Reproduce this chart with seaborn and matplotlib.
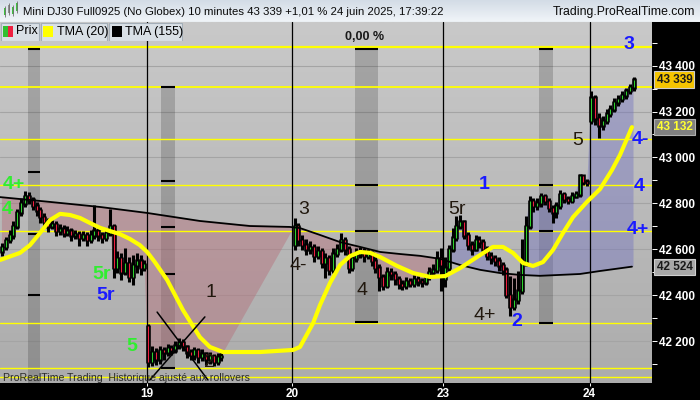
import numpy as np
import pandas as pd
import matplotlib
matplotlib.use("Agg")
import matplotlib.pyplot as plt
import seaborn as sns
from matplotlib.colors import LinearSegmentedColormap
from matplotlib.patches import Rectangle
from matplotlib.ticker import MultipleLocator, FuncFormatter, FixedLocator

# ---------------- data ----------------
day_labels = ["19", "20", "23", "24"]
day_pos = [37.6, 75.4, 114.6, 152.6]

# 10-minute bars, per session: first bar index, first open, closes, highs, lows
start_18 = 0
open_18 = 42590
close_18 = [42610, 42640, 42660, 42700, 42760, 42800, 42830, 42815, 42790, 42770,
            42740, 42720, 42700, 42710, 42680, 42690, 42670, 42680, 42660, 42665,
            42650, 42660, 42640, 42660, 42680, 42660, 42650, 42670, 42700, 42520,
            42560, 42500, 42540, 42480, 42530, 42550, 42520, 42535]
high_18 = [42625, 42650, 42680, 42720, 42770, 42820, 42850, 42845, 42825, 42800,
           42780, 42755, 42730, 42725, 42720, 42705, 42700, 42695, 42690, 42680,
           42675, 42675, 42670, 42680, 42790, 42690, 42670, 42690, 42770, 42705,
           42590, 42580, 42600, 42560, 42570, 42580, 42570, 42550]
low_18 = [42575, 42600, 42630, 42650, 42690, 42750, 42790, 42800, 42775, 42750,
          42720, 42700, 42680, 42690, 42660, 42665, 42655, 42660, 42640, 42650,
          42620, 42640, 42620, 42630, 42650, 42640, 42630, 42640, 42660, 42480,
          42500, 42470, 42490, 42460, 42450, 42500, 42490, 42510]

start_19 = 38
open_19 = 42265
close_19 = [42110, 42150, 42120, 42160, 42150, 42170, 42160, 42180, 42195, 42175,
            42150, 42140, 42160, 42130, 42145, 42120, 42135, 42110, 42130, 42135]
high_19 = [42270, 42175, 42165, 42175, 42170, 42185, 42180, 42195, 42210, 42205,
           42180, 42160, 42170, 42165, 42160, 42150, 42150, 42140, 42145, 42150]
low_19 = [42090, 42095, 42100, 42105, 42120, 42140, 42145, 42150, 42170, 42160,
          42130, 42120, 42120, 42110, 42115, 42100, 42105, 42095, 42100, 42115]

start_20 = 76
open_20 = 42620
close_20 = [42700, 42640, 42620, 42600, 42610, 42570, 42590, 42540, 42560, 42510,
            42580, 42600, 42640, 42600, 42520, 42560, 42580, 42590, 42570, 42580,
            42550, 42520, 42480, 42440, 42500, 42490, 42470, 42450, 42440, 42460,
            42450, 42470, 42460, 42455, 42480, 42500, 42510, 42560, 42530]
high_20 = [42730, 42710, 42660, 42640, 42630, 42620, 42610, 42600, 42580, 42570,
           42600, 42620, 42665, 42650, 42610, 42580, 42600, 42605, 42600, 42595,
           42590, 42560, 42530, 42490, 42520, 42515, 42500, 42480, 42460, 42475,
           42470, 42485, 42480, 42470, 42490, 42520, 42530, 42590, 42600]
low_20 = [42600, 42620, 42600, 42580, 42585, 42550, 42560, 42520, 42480, 42490,
          42500, 42570, 42590, 42580, 42500, 42510, 42550, 42565, 42550, 42560,
          42530, 42500, 42420, 42425, 42435, 42470, 42450, 42430, 42425, 42430,
          42440, 42440, 42445, 42440, 42450, 42470, 42490, 42500, 42420]

start_23 = 115
open_23 = 42470
close_23 = [42520, 42600, 42650, 42700, 42720, 42660, 42620, 42600, 42640, 42630,
            42600, 42570, 42560, 42550, 42530, 42510, 42400, 42350, 42380, 42420,
            42540, 42700, 42810, 42790, 42800, 42830, 42810, 42780, 42760, 42790,
            42840, 42820, 42810, 42830, 42840, 42920, 42895, 42890]
high_23 = [42560, 42615, 42690, 42740, 42745, 42725, 42670, 42630, 42660, 42655,
           42640, 42610, 42585, 42570, 42560, 42540, 42520, 42480, 42470, 42500,
           42640, 42740, 42830, 42820, 42820, 42840, 42835, 42820, 42790, 42800,
           42855, 42845, 42830, 42845, 42850, 42925, 42905, 42900]
low_23 = [42440, 42510, 42590, 42640, 42690, 42650, 42600, 42580, 42595, 42610,
          42585, 42555, 42540, 42530, 42510, 42490, 42390, 42315, 42340, 42365,
          42410, 42530, 42690, 42765, 42775, 42790, 42795, 42765, 42720, 42740,
          42780, 42805, 42800, 42805, 42825, 42830, 42885, 42880]

start_24 = 153
open_24 = 43160
close_24 = [43260, 43170, 43140, 43160, 43190, 43210, 43240, 43255, 43270, 43290,
            43305, 43339]
high_24 = [43285, 43270, 43190, 43175, 43205, 43225, 43255, 43270, 43285, 43300,
           43318, 43345]
low_24 = [43150, 43145, 43090, 43125, 43150, 43180, 43200, 43230, 43245, 43260,
          43280, 43295]

# indicators (bar index, value)
tma20_x = [-0.5, 4.7, 7.3, 9.9, 12.5, 15.1, 17.7, 20.3, 22.9, 25.5, 28.1, 30.6, 33.2,
           35.8, 37.7, 39.7, 42.9, 47.0, 51.4, 54.0, 57.4, 67.0, 75.6, 77.4, 80.8,
           82.6, 85.2, 87.8, 90.4, 93.0, 95.6, 98.2, 102.6, 106.8, 111.2, 115.1,
           119.0, 124.2, 127.5, 130.1, 132.7, 135.3, 137.9, 140.5, 143.1, 145.7,
           148.3, 151.9, 155.3, 158.4, 160.5, 163.6]
tma20_v = [42553, 42584, 42618, 42671, 42727, 42754, 42749, 42736, 42714, 42693, 42679,
           42666, 42645, 42618, 42588, 42544, 42466, 42335, 42217, 42174, 42152, 42152,
           42161, 42174, 42278, 42357, 42453, 42531, 42570, 42588, 42584, 42566, 42527,
           42496, 42479, 42483, 42518, 42575, 42610, 42610, 42584, 42540, 42527, 42544,
           42597, 42671, 42740, 42806, 42862, 42945, 43011, 43132]
tma155_x = [-0.5, 12.5, 25.5, 37.7, 51.4, 64.4, 74.8, 77.4, 82.6, 87.8, 93.0, 98.2,
            103.4, 108.6, 113.8, 119.0, 124.2, 129.4, 134.5, 139.7, 144.9, 150.1,
            155.3, 163.6]
tma155_v = [42827, 42806, 42784, 42758, 42723, 42701, 42697, 42692, 42662, 42631, 42610,
            42588, 42579, 42571, 42558, 42531, 42510, 42496, 42488, 42484, 42488, 42492,
            42505, 42524]

# pivot levels and session bands
levels = [43483, 43307, 43080, 42880, 42680, 42279, 42083, 42044]
level_lw = [1.6, 1.3, 1.0, 1.0, 1.0, 1.0, 1.0, 1.0]
band_x0 = [6.75, 41.3, 91.7, 139.5]
band_x1 = [9.9, 44.9, 97.7, 143.1]
band_top = [43472, 43307, 43472, 43472]
band_bottom = [42017, 42083, 42283, 42279]
band_marks = [[43472, 42937, 42666, 42400],
              [43307, 42897, 42697, 42492, 42082],
              [43472, 42880, 42680, 42283],
              [43472, 42880, 42680, 42279]]

cross_x = [[40.3, 53.5], [52.7, 38.4]]
cross_v = [[42326, 42030], [42305, 42030]]

labels_txt = ["4+", "4", "5r", "5r", "5", "1", "2", "3", "4-", "4", "5r", "1", "4+",
              "2", "5", "3", "4-", "4", "4+"]
labels_x = [3.1, 1.3, 26.0, 26.8, 33.8, 54.3, 54.0, 78.4, 76.9, 93.5, 118.2, 125.2,
            125.5, 133.8, 149.6, 162.9, 165.7, 165.5, 165.2]
labels_v = [42880, 42771, 42488, 42400, 42174, 42413, 42105, 42771, 42527, 42422,
            42771, 42880, 42313, 42287, 43072, 43490, 43076, 42875, 42684]
labels_kind = ["g", "g", "g", "b", "g", "d", "d", "d", "d", "d", "d", "b", "d",
               "b", "d", "b", "b", "b", "b"]

last_price = 43339
last_tma20 = 43132
last_tma155 = 42524

# ---------------- build bars ----------------
sessions = [(start_18, open_18, close_18, high_18, low_18),
            (start_19, open_19, close_19, high_19, low_19),
            (start_20, open_20, close_20, high_20, low_20),
            (start_23, open_23, close_23, high_23, low_23),
            (start_24, open_24, close_24, high_24, low_24)]
rows = []
for s, o0, c, h, l in sessions:
    o = [o0] + c[:-1]
    for k in range(len(c)):
        rows.append((s + k, o[k], h[k], l[k], c[k]))
bars = pd.DataFrame(rows, columns=["x", "open", "high", "low", "close"])

# ---------------- style ----------------
sns.set_theme(style="white")
plt.rcParams["font.family"] = ["Liberation Sans", "DejaVu Sans"]

XLIM = (-0.5, 168.8)
YLIM = (42017, 43590)

fig = plt.figure(figsize=(7, 4), dpi=100, facecolor="black")
ax = fig.add_axes([0, 17 / 400, 652 / 700, 361 / 400])

grad = LinearSegmentedColormap.from_list("bg", ["#acacac", "#c9c9c9"])
ax.imshow(np.linspace(0, 1, 256).reshape(-1, 1), extent=[XLIM[0], XLIM[1], YLIM[0], YLIM[1]],
          origin="lower", aspect="auto", cmap=grad, zorder=0)

# grid
for v in range(42200, 43600, 200):
    ax.axhline(v, color="#a4a4a4", lw=0.8, zorder=0.6)

# bands
for x0, x1, t, b, marks in zip(band_x0, band_x1, band_top, band_bottom, band_marks):
    ax.add_patch(Rectangle((x0, b), x1 - x0, t - b, color="black", alpha=0.17, lw=0, zorder=0.7))
    ax.hlines(marks, x0, x1, color="black", lw=1.5, zorder=2.5)

# fill between price and TMA155
t155 = np.interp(bars["x"], tma155_x, tma155_v)
ax.fill_between(bars["x"], bars["close"], t155, where=bars["close"] <= t155, interpolate=True,
                color="#b56a76", alpha=0.42, lw=0, zorder=1)
ax.fill_between(bars["x"], bars["close"], t155, where=bars["close"] >= t155, interpolate=True,
                color="#7070c0", alpha=0.42, lw=0, zorder=1)

# pivot levels
for v, w in zip(levels, level_lw):
    ax.axhline(v, color="#ffff00", lw=w, zorder=1.5)

# day separators
for d in day_pos:
    ax.axvline(d, color="black", lw=0.9, zorder=1.6)

# candles
bmin = np.minimum(bars["open"], bars["close"])
bmax = np.maximum(bars["open"], bars["close"])
ax.vlines(bars["x"], bars["low"] - 4, bars["high"] + 4, color="black", lw=2.2, zorder=3)
ax.vlines(bars["x"], bmin - 6, bmax + 6, color="black", lw=3.3, zorder=3.1)
up = bars["close"] >= bars["open"]
ax.vlines(bars["x"][up], bmin[up], bmax[up], color="#2fd02f", lw=0.8, zorder=3.2)
ax.vlines(bars["x"][~up], bmin[~up], bmax[~up], color="#ee2040", lw=0.8, zorder=3.2)

# indicators
sns.lineplot(x=tma155_x, y=tma155_v, ax=ax, color="black", lw=1.3, zorder=4)
sns.lineplot(x=tma20_x, y=tma20_v, ax=ax, color="#ffff00", lw=3.0, zorder=4.1)

# cross
for cx, cv in zip(cross_x, cross_v):
    ax.plot(cx, cv, color="black", lw=1.1, zorder=4.5)

# wave labels
kind_color = {"g": "#30ee30", "b": "#1a1aff", "d": "#21180e"}
kind_weight = {"g": "bold", "b": "bold", "d": "normal"}
for t, x, v, k in zip(labels_txt, labels_x, labels_v, labels_kind):
    ax.text(x, v, t, color=kind_color[k], fontweight=kind_weight[k], fontsize=14,
            ha="center", va="center", zorder=6)

ax.text(band_x0[2] + (band_x1[2] - band_x0[2]) / 2 - 0.5, 43525, "0,00 %", fontsize=9,
        fontweight="bold", color="#1a1a1a", ha="center", va="center", zorder=6)
ax.text(0.004, 0.015, "ProRealTime Trading  Historique ajusté aux rollovers", transform=ax.transAxes,
        fontsize=7.6, color="#2a2a2a", ha="left", va="center", zorder=5)

ax.set_xlim(*XLIM)
ax.set_ylim(*YLIM)
for s in ax.spines.values():
    s.set_visible(False)

# axes ticks
ax.yaxis.tick_right()
ax.yaxis.set_major_locator(MultipleLocator(200))
ax.yaxis.set_minor_locator(MultipleLocator(100))
ax.yaxis.set_major_formatter(FuncFormatter(lambda v, p: f"{int(v):,}".replace(",", " ")))
ax.tick_params(axis="y", which="both", right=True, left=False, colors="white", length=3.6,
               width=0.7, pad=1.2, labelsize=8.5, direction="out")
for lab in ax.get_yticklabels():
    lab.set_fontweight("bold")
ax.xaxis.set_major_locator(FixedLocator(day_pos))
ax.set_xticklabels(day_labels)
ax.tick_params(axis="x", which="both", bottom=True, colors="white", length=2.5, width=0.7,
               pad=1.2, labelsize=8.5, direction="out")
for lab in ax.get_xticklabels():
    lab.set_fontweight("bold")
ax.set_xlabel("")
ax.set_ylabel("")

# price boxes on axis
ytr = ax.get_yaxis_transform()
ax.text(1.007, last_price, f"{last_price:,}".replace(",", " "), transform=ytr, fontsize=8.5,
        fontweight="bold", color="#1a1a1a", ha="left", va="center", clip_on=False, zorder=7,
        bbox=dict(boxstyle="square,pad=0.18", fc="#f5c400", ec="#cccccc", lw=0.8))
ax.text(1.007, last_tma20, f"{last_tma20:,}".replace(",", " "), transform=ytr, fontsize=8.5,
        fontweight="bold", color="#ffff30", ha="left", va="center", clip_on=False, zorder=7,
        bbox=dict(boxstyle="square,pad=0.18", fc="#808080", ec="#b0b0b0", lw=0.8))
ax.text(1.007, last_tma155, f"{last_tma155:,}".replace(",", " "), transform=ytr, fontsize=8.5,
        fontweight="bold", color="#1a1a1a", ha="left", va="center", clip_on=False, zorder=7,
        bbox=dict(boxstyle="square,pad=0.18", fc="#a8a8a8", ec="#d0d0d0", lw=0.8))

# ---------------- header ----------------
hax = fig.add_axes([0, 1 - 22 / 400, 1, 22 / 400])
hax.imshow(np.linspace(0, 1, 64).reshape(-1, 1), extent=[0, 700, 0, 22], origin="lower",
           aspect="auto", cmap=LinearSegmentedColormap.from_list("hb", ["#d3dce6", "#f1f5f9"]))
hax.set_xlim(0, 700)
hax.set_ylim(22, 0)
hax.axis("off")
hax.axhline(21.5, color="#8c9cac", lw=0.8)
# small candle icon
for cx, y0, y1, col in [(5, 8, 15, "#40c040"), (9, 5, 13, "#909090"), (13, 7, 14, "#40c040"),
                        (17, 3, 11, "#40c040")]:
    hax.vlines(cx, y0 - 2, y1 + 2, color="#707070", lw=0.6)
    hax.add_patch(Rectangle((cx - 1.3, y0), 2.6, y1 - y0, fc=col, ec="none"))
hax.text(23, 12, "Mini DJ30 Full0925 (No Globex) 10 minutes 43 339 +1,01 % 24 juin 2025, 17:39:22",
         fontsize=8.2, color="#0a0a0a", ha="left", va="center")
hax.text(695, 12, "Trading.ProRealTime.com", fontsize=8.8, color="#0a0a0a", ha="right", va="center")

# legend boxes over plot
lax = fig.add_axes([0, 1 - 41 / 400, 183 / 700, 19 / 400])
lax.set_xlim(0, 183)
lax.set_ylim(19, 0)
lax.axis("off")
for x0, x1 in [(0.5, 39), (40.5, 107), (108.5, 182)]:
    lax.add_patch(Rectangle((x0, 0.5), x1 - x0, 18, fc="#d9e0e6", ec="#a3aeb8", lw=0.8))
lax.add_patch(Rectangle((2.5, 4), 5, 11, fc="#30c030", ec="none"))
lax.add_patch(Rectangle((7.5, 4), 5, 11, fc="#ee2040", ec="none"))
lax.add_patch(Rectangle((43, 4), 10, 11, fc="#ffff00", ec="none"))
lax.add_patch(Rectangle((111.5, 4), 10, 11, fc="#000000", ec="none"))
lax.text(16, 9.5, "Prix", fontsize=9, color="black", ha="left", va="center")
lax.text(57, 9.5, "TMA (20)", fontsize=9, color="black", ha="left", va="center")
lax.text(125, 9.5, "TMA (155)", fontsize=9, color="black", ha="left", va="center")

fig.savefig("out.png", dpi=100, facecolor="black")
